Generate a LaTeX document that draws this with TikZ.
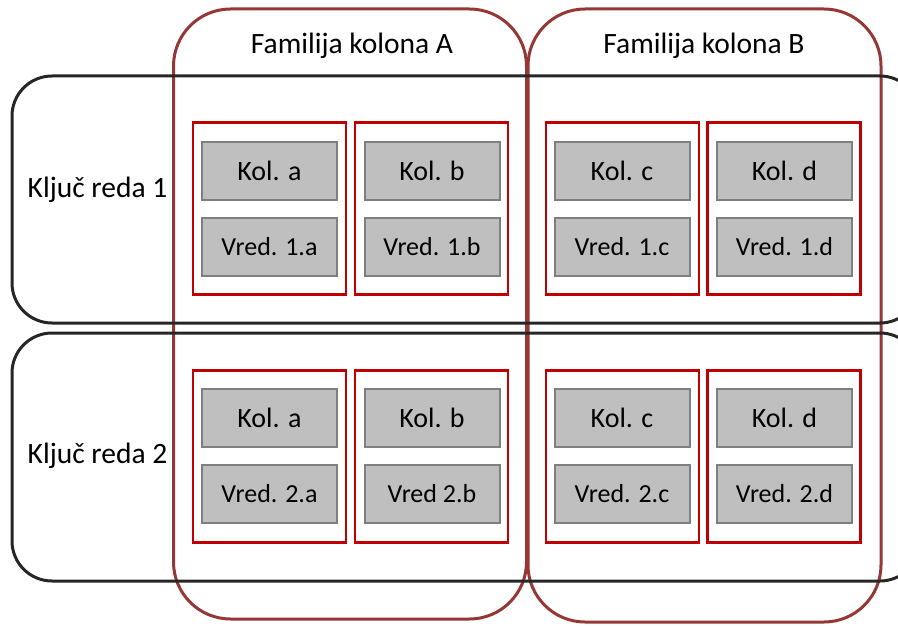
\documentclass[tikz,border=0pt]{standalone}
\usepackage{fontspec}
\setmainfont{Carlito}
\usepackage{tikz}
\usetikzlibrary{positioning}
\definecolor{rowline}{HTML}{262626}
\definecolor{famline}{HTML}{953735}
\definecolor{cellline}{HTML}{C00000}
\definecolor{boxfill}{HTML}{BFBFBF}
\definecolor{boxline}{HTML}{7F7F7F}

\begin{document}
\begin{tikzpicture}[x=1pt, y=-1pt,
    family/.style={draw=famline, line width=3pt, rounded corners=57pt, minimum width=353pt},
    rowkey/.style={draw=rowline, line width=3pt, rounded corners=40pt, minimum width=908pt, minimum height=247pt},
    cell/.style={draw=cellline, line width=2.5pt, minimum width=153pt, minimum height=172pt},
    colbox/.style={draw=boxline, fill=boxfill, line width=2pt, minimum width=135pt, minimum height=58pt,
        font=\fontsize{28}{30}\selectfont, text height=18pt, text depth=0pt},
    valbox/.style={colbox, font=\fontsize{26}{28}\selectfont, text height=16.7pt},
    lbl/.style={font=\fontsize{29.5}{32}\selectfont, text height=19pt, text depth=0pt}]
                                \useasboundingbox (0,0) rectangle (898,626);
                                \clip (0,0) rectangle (898,626);
                                \node[family, minimum height=610pt] (fama) at (350, 314) {};
                                \node[family, minimum height=613pt] (famb) at (704.5, 315.5) {};
                                \node[rowkey] (red1) at (466, 199.5) {};
                                \node[rowkey, minimum height=248pt] (red2) at (466, 457) {};
                                \node[lbl] (titlea) at (352, 44.5) {Familija kolona A};
                                \node[lbl] (titleb) at (704, 44.5) {Familija kolona B};
                                \node[lbl] (key1) at (97.5, 188) {Ključ reda 1};
                                \node[lbl] (key2) at (97.5, 453.5) {Ključ reda 2};
                                \node[cell] (c1a) at (269.5, 208.5) {};
                                \node[cell] (c1b) at (431.5, 208.5) {};
                                \node[cell] (c1c) at (622.5, 208.5) {};
                                \node[cell] (c1d) at (784, 208.5) {};
                                \node[cell] (c2a) at (269.5, 456.5) {};
                                \node[cell] (c2b) at (431.5, 456.5) {};
                                \node[cell] (c2c) at (622.5, 456.5) {};
                                \node[cell] (c2d) at (784, 456.5) {};
                                \node[colbox] (k1a) at (269.5, 171) {Kol. a};
                                \node[colbox] (k1b) at (432, 171) {Kol. b};
                                \node[colbox] (k1c) at (622, 171) {Kol. c};
                                \node[colbox] (k1d) at (784.5, 171) {Kol. d};
                                \node[valbox] (v1a) at (269.5, 247) {Vred. 1.a};
                                \node[valbox] (v1b) at (432, 247) {Vred. 1.b};
                                \node[valbox] (v1c) at (622, 247) {Vred. 1.c};
                                \node[valbox] (v1d) at (784.5, 247) {Vred. 1.d};
                                \node[colbox] (k2a) at (269.5, 418) {Kol. a};
                                \node[colbox] (k2b) at (432, 418) {Kol. b};
                                \node[colbox] (k2c) at (622, 418) {Kol. c};
                                \node[colbox] (k2d) at (784.5, 418) {Kol. d};
                                \node[valbox] (v2a) at (269.5, 494) {Vred. 2.a};
                                \node[valbox] (v2b) at (432, 494) {Vred 2.b};
                                \node[valbox] (v2c) at (622, 494) {Vred. 2.c};
                                \node[valbox] (v2d) at (784.5, 494) {Vred. 2.d};
                            \end{tikzpicture}
\end{document}
